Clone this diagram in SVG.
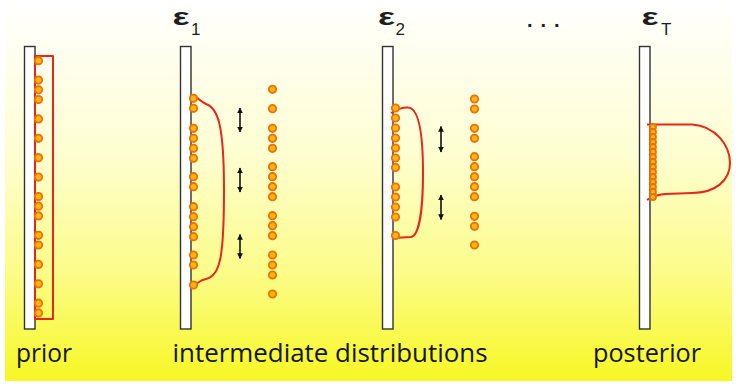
<svg xmlns="http://www.w3.org/2000/svg" xmlns:xlink="http://www.w3.org/1999/xlink" width="736" height="384" viewBox="0 0 736 384">
  <defs>
    <linearGradient id="bg" x1="0" y1="0" x2="0" y2="1">
      <stop offset="0" stop-color="#ffffff"/>
      <stop offset="0.4" stop-color="#fefed2"/>
      <stop offset="0.72" stop-color="#fcfc88"/>
      <stop offset="1" stop-color="#f7f724"/>
    </linearGradient>
    <circle id="p" r="3.7" class="dot"/>
    <circle id="ps" r="3" class="dot"/>
    <marker id="ah" viewBox="0 0 10 10" refX="9" refY="5" markerWidth="3.6" markerHeight="3.6" orient="auto-start-reverse">
      <path d="M0,0 L10,5 L0,10 Z" fill="#111"/>
    </marker>
  </defs>
  <style>
    .bar { fill: #ffffff; stroke: #333333; stroke-width: 1.4; }
    .dot { fill: #ffb812; stroke: #f07008; stroke-width: 1.8; }
    .curve { fill: none; stroke: #e8261a; stroke-width: 2; stroke-linejoin: round; }
    .arrow { stroke: #111; stroke-width: 1.6; fill: none; marker-start: url(#ah); marker-end: url(#ah); }
    .eps { font-family: "Liberation Sans", Arial, sans-serif; fill: #1e1e1e; font-weight: bold; }
    .sub { font-family: "Liberation Sans", Arial, sans-serif; fill: #1e1e1e; font-size: 17px; }
    .lbl { font-family: "Open Sans", "Noto Sans", sans-serif; font-size: 25px; fill: #141414; }
  </style>

  <rect x="0" y="0" width="736" height="384" fill="#ffffff"/>
  <rect x="5" y="0" width="727" height="381" fill="url(#bg)"/>

  <g id="prior">
    <rect class="bar" x="24.5" y="46.5" width="10.5" height="282.5"/>
    <rect class="curve" x="35" y="56" width="18" height="263" fill="none"/>
    <g>
      <use xlink:href="#p" x="38.5" y="60.7"/>
      <use xlink:href="#p" x="38.5" y="80.1"/>
      <use xlink:href="#p" x="38.5" y="89.8"/>
      <use xlink:href="#p" x="38.5" y="99.5"/>
      <use xlink:href="#p" x="38.5" y="118.9"/>
      <use xlink:href="#p" x="38.5" y="138.3"/>
      <use xlink:href="#p" x="38.5" y="157.7"/>
      <use xlink:href="#p" x="38.5" y="177.1"/>
      <use xlink:href="#p" x="38.5" y="196.5"/>
      <use xlink:href="#p" x="38.5" y="206.2"/>
      <use xlink:href="#p" x="38.5" y="215.9"/>
      <use xlink:href="#p" x="38.5" y="235.3"/>
      <use xlink:href="#p" x="38.5" y="245.0"/>
      <use xlink:href="#p" x="38.5" y="264.4"/>
      <use xlink:href="#p" x="38.5" y="283.8"/>
      <use xlink:href="#p" x="38.5" y="303.2"/>
      <use xlink:href="#p" x="38.5" y="312.9"/>
    </g>
    <text class="lbl" x="16" y="362" textLength="56" lengthAdjust="spacingAndGlyphs">prior</text>
  </g>

  <g id="eps1">
    <text class="eps" x="172.5" y="25" font-size="24" textLength="17" lengthAdjust="spacingAndGlyphs">ε</text>
    <text class="sub" x="191" y="35">1</text>
    <rect class="bar" x="180.5" y="46.5" width="10.5" height="282.5"/>
    <path class="curve" d="M192,96 C197,95 199,101 206,104 C218,108 224,125 224,190 C224,258 220,276 206,279 C200,280 198,283 193,286"/>
    <g>
      <use xlink:href="#p" x="193.5" y="98.3"/>
      <use xlink:href="#p" x="193.5" y="108.3"/>
      <use xlink:href="#p" x="193.5" y="128.3"/>
      <use xlink:href="#p" x="193.5" y="138.3"/>
      <use xlink:href="#p" x="193.5" y="148.3"/>
      <use xlink:href="#p" x="193.5" y="158.3"/>
      <use xlink:href="#p" x="193.5" y="176.7"/>
      <use xlink:href="#p" x="193.5" y="186.7"/>
      <use xlink:href="#p" x="193.5" y="206.7"/>
      <use xlink:href="#p" x="193.5" y="216.7"/>
      <use xlink:href="#p" x="193.5" y="226.7"/>
      <use xlink:href="#p" x="193.5" y="236.7"/>
      <use xlink:href="#p" x="193.5" y="255"/>
      <use xlink:href="#p" x="193.5" y="265"/>
      <use xlink:href="#p" x="193.5" y="285"/>
    </g>
  </g>

  <g id="resample1">
    <use xlink:href="#p" x="272.5" y="89.3"/>
    <use xlink:href="#p" x="272.5" y="108.7"/>
    <use xlink:href="#p" x="272.5" y="128.3"/>
    <use xlink:href="#p" x="272.5" y="138.3"/>
    <use xlink:href="#p" x="272.5" y="148.3"/>
    <use xlink:href="#p" x="272.5" y="166.7"/>
    <use xlink:href="#p" x="272.5" y="176.7"/>
    <use xlink:href="#p" x="272.5" y="186.7"/>
    <use xlink:href="#p" x="272.5" y="196.7"/>
    <use xlink:href="#p" x="272.5" y="215.7"/>
    <use xlink:href="#p" x="272.5" y="225.7"/>
    <use xlink:href="#p" x="272.5" y="235.7"/>
    <use xlink:href="#p" x="272.5" y="255"/>
    <use xlink:href="#p" x="272.5" y="265"/>
    <use xlink:href="#p" x="272.5" y="275"/>
    <use xlink:href="#p" x="272.5" y="294"/>
  </g>

  <g id="eps2">
    <text class="eps" x="378" y="25" font-size="24" textLength="17" lengthAdjust="spacingAndGlyphs">ε</text>
    <text class="sub" x="395.5" y="35">2</text>
    <rect class="bar" x="382.5" y="46.5" width="10.5" height="282.5"/>
    <path class="curve" d="M391,113 C396,110 402,107 408,107.5 C418,108 423,130 423,173 C423,215 418,236 411,237 L393,238"/>
    <g>
      <use xlink:href="#p" x="395.5" y="108"/>
      <use xlink:href="#p" x="395.5" y="118"/>
      <use xlink:href="#p" x="395.5" y="128"/>
      <use xlink:href="#p" x="395.5" y="138"/>
      <use xlink:href="#p" x="395.5" y="148"/>
      <use xlink:href="#p" x="395.5" y="158"/>
      <use xlink:href="#p" x="395.5" y="167.5"/>
      <use xlink:href="#p" x="395.5" y="187"/>
      <use xlink:href="#p" x="395.5" y="197"/>
      <use xlink:href="#p" x="395.5" y="207"/>
      <use xlink:href="#p" x="395.5" y="217"/>
      <use xlink:href="#p" x="395.5" y="235.5"/>
    </g>
  </g>

  <g id="resample2">
    <use xlink:href="#p" x="474.5" y="99"/>
    <use xlink:href="#p" x="474.5" y="109"/>
    <use xlink:href="#p" x="474.5" y="128.3"/>
    <use xlink:href="#p" x="474.5" y="138.3"/>
    <use xlink:href="#p" x="474.5" y="156.7"/>
    <use xlink:href="#p" x="474.5" y="166.7"/>
    <use xlink:href="#p" x="474.5" y="176.7"/>
    <use xlink:href="#p" x="474.5" y="186.7"/>
    <use xlink:href="#p" x="474.5" y="196.7"/>
    <use xlink:href="#p" x="474.5" y="216.3"/>
    <use xlink:href="#p" x="474.5" y="226.3"/>
    <use xlink:href="#p" x="474.5" y="245"/>
  </g>

  <g id="ellipsis">
    <text class="eps" x="527" y="27" font-size="20" letter-spacing="8">...</text>
  </g>

  <g id="epsT">
    <text class="eps" x="641.5" y="25" font-size="24" textLength="17" lengthAdjust="spacingAndGlyphs">ε</text>
    <text class="sub" x="661" y="35">T</text>
    <rect class="bar" x="639.5" y="46.5" width="10.5" height="282.5"/>
    <path class="curve" d="M647,124.5 L692,124.5 C716,126 730,146 730,163 C730,180 716,193 692,193 L665,194 C655,195 650,198 647,200"/>
    <g>
      <use xlink:href="#ps" x="653" y="127"/>
      <use xlink:href="#ps" x="653" y="132"/>
      <use xlink:href="#ps" x="653" y="137"/>
      <use xlink:href="#ps" x="653" y="142"/>
      <use xlink:href="#ps" x="653" y="147"/>
      <use xlink:href="#ps" x="653" y="152"/>
      <use xlink:href="#ps" x="653" y="157"/>
      <use xlink:href="#ps" x="653" y="162"/>
      <use xlink:href="#ps" x="653" y="167"/>
      <use xlink:href="#ps" x="653" y="172"/>
      <use xlink:href="#ps" x="653" y="177"/>
      <use xlink:href="#ps" x="653" y="182"/>
      <use xlink:href="#ps" x="653" y="187"/>
      <use xlink:href="#ps" x="653" y="192"/>
      <use xlink:href="#ps" x="653" y="197"/>
    </g>
    <text class="lbl" x="593" y="362" textLength="108" lengthAdjust="spacingAndGlyphs">posterior</text>
  </g>

  <g id="caption">
    <text class="lbl" x="172.5" y="362" textLength="315" lengthAdjust="spacingAndGlyphs">intermediate distributions</text>
  </g>

  <g id="connectors">
    <line class="arrow" x1="240" y1="108" x2="240" y2="132"/>
    <line class="arrow" x1="240" y1="168" x2="240" y2="192"/>
    <line class="arrow" x1="240" y1="234.5" x2="240" y2="258.5"/>
    <line class="arrow" x1="441" y1="126.5" x2="441" y2="152"/>
    <line class="arrow" x1="441" y1="195" x2="441" y2="219.5"/>
  </g>
</svg>
